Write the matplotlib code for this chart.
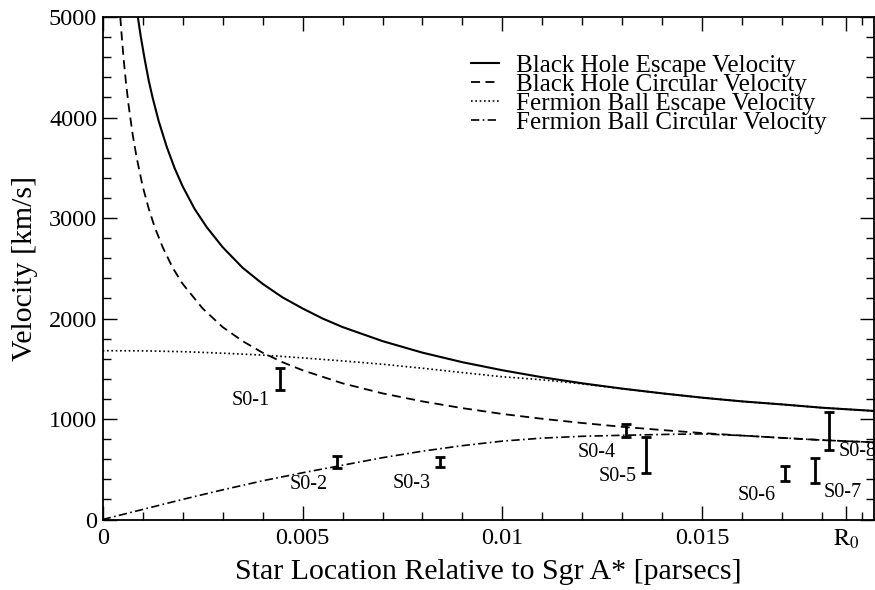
import matplotlib
matplotlib.use("Agg")
import matplotlib.pyplot as plt
from matplotlib.ticker import MultipleLocator, FixedLocator

plt.rcParams['font.family'] = ['Liberation Serif', 'DejaVu Serif']
plt.rcParams['mathtext.fontset'] = 'stix'

# ---------------- data ----------------
bh_esc_x = [0.00088, 0.00095, 0.00105, 0.00115, 0.00125, 0.0014, 0.0016, 0.0018, 0.0020,
            0.0023, 0.0026, 0.0030, 0.0035, 0.0040, 0.0045, 0.0050, 0.0055, 0.0060, 0.0070,
            0.0080, 0.0090, 0.0100, 0.0110, 0.0120, 0.0130, 0.0140, 0.0150, 0.0160, 0.0170,
            0.0180, 0.0193]
bh_esc_v = [5000, 4810, 4580, 4370, 4195, 3965, 3710, 3495, 3315,
            3090, 2910, 2710, 2505, 2345, 2210, 2100, 2000, 1915, 1775,
            1660, 1565, 1485, 1415, 1355, 1302, 1255, 1212, 1175, 1145,
            1112, 1080]

bh_circ_x = [0.00044, 0.00048, 0.00053, 0.00058, 0.00065, 0.00075, 0.00085, 0.0010, 0.00115,
             0.0013, 0.0015, 0.00175, 0.0020, 0.0025, 0.0030, 0.0035, 0.0040, 0.0045, 0.0050,
             0.0060, 0.0070, 0.0080, 0.0090, 0.0100, 0.0110, 0.0120, 0.0130, 0.0140, 0.0150,
             0.0160, 0.0170, 0.0180, 0.0193]
bh_circ_v = [5000, 4790, 4555, 4355, 4115, 3830, 3600, 3315, 3095,
             2910, 2710, 2505, 2345, 2100, 1915, 1775, 1660, 1565, 1485,
             1355, 1255, 1175, 1108, 1050, 1002, 960, 922, 890, 860,
             835, 812, 790, 768]

fb_esc_x = [0.0, 0.001, 0.002, 0.003, 0.004, 0.005, 0.006, 0.007, 0.008, 0.009, 0.010,
            0.011, 0.012, 0.0128, 0.0140, 0.0150, 0.0160, 0.0170, 0.0180, 0.0193]
fb_esc_v = [1680, 1678, 1670, 1655, 1636, 1608, 1578, 1545, 1505, 1462, 1420,
            1390, 1350, 1310, 1255, 1212, 1175, 1145, 1112, 1080]

fb_circ_x = [0.0, 0.001, 0.002, 0.003, 0.004, 0.005, 0.006, 0.007, 0.008, 0.009, 0.010,
             0.011, 0.012, 0.013, 0.014, 0.0150, 0.0160, 0.0170, 0.0180, 0.0193]
fb_circ_v = [0, 100, 200, 295, 385, 465, 540, 615, 680, 735, 780,
             810, 828, 838, 846, 852, 835, 812, 790, 768]

series_labels = ["Black Hole Escape Velocity", "Black Hole Circular Velocity",
                 "Fermion Ball Escape Velocity", "Fermion Ball Circular Velocity"]

star_names = ["S0-1", "S0-2", "S0-3", "S0-4", "S0-5", "S0-6", "S0-7", "S0-8"]
star_x = [0.00443, 0.00587, 0.00845, 0.01308, 0.01360, 0.01708, 0.01783, 0.01817]
star_v = [1400, 570, 575, 890, 642, 455, 490, 880]
star_err = [110, 60, 50, 65, 182, 75, 125, 190]

x_ticks = [0, 0.005, 0.01, 0.015, 0.0186]
x_tick_labels = ["0", "0.005", "0.01", "0.015", r"$\mathrm{R}_0$"]
y_ticks = [0, 1000, 2000, 3000, 4000, 5000]

# ---------------- figure ----------------
fig = plt.figure(figsize=(8.75, 5.9), dpi=100)
ax = fig.add_axes([102.7 / 875, 70.5 / 590, 771.5 / 875, 502.5 / 590])

ax.plot(bh_esc_x, bh_esc_v, color='black', lw=1.5, ls='-', label=series_labels[0])
ax.plot(bh_circ_x, bh_circ_v, color='black', lw=1.3, ls=(0, (5, 3)), label=series_labels[1])
ax.plot(fb_esc_x, fb_esc_v, color='black', lw=1.2, ls=(0, (1, 1.6)), label=series_labels[2])
ax.plot(fb_circ_x, fb_circ_v, color='black', lw=1.2, ls=(0, (5, 2, 1, 2)), label=series_labels[3])

ax.errorbar(star_x, star_v, yerr=star_err, fmt='none', ecolor='black',
            elinewidth=2.0, capsize=3.5, capthick=2.0)

offsets = [(-29, -22)] * 6 + [(27, -22), (29, -20)]
for name, x, v, off in zip(star_names, star_x, star_v, offsets):
    ax.annotate(name, (x, v), xytext=off, textcoords='offset pixels',
                ha='center', va='center', fontsize=14.5, annotation_clip=False)

ax.set_xlim(0, 0.0193)
ax.set_ylim(0, 5000)

ax.xaxis.set_major_locator(FixedLocator(x_ticks))
ax.set_xticklabels(x_tick_labels)
ax.xaxis.set_minor_locator(MultipleLocator(0.001))
ax.yaxis.set_major_locator(FixedLocator(y_ticks))
ax.yaxis.set_minor_locator(MultipleLocator(200))

ax.tick_params(which='both', direction='in', top=True, right=True, labelsize=17.5, width=1.0)
ax.tick_params(which='major', length=10)
ax.tick_params(which='minor', length=5.5)
ax.tick_params(axis='x', pad=6)
ax.tick_params(axis='y', pad=4)
for s in ax.spines.values():
    s.set_linewidth(1.3)

ax.set_xlabel("Star Location Relative to Sgr A* [parsecs]", fontsize=21.5, labelpad=6)
ax.set_ylabel("Velocity [km/s]", fontsize=21.5, labelpad=8)

leg = ax.legend(loc='upper left', bbox_to_anchor=(0.477, 0.925), frameon=False,
                fontsize=18, handlelength=1.12, handletextpad=0.68,
                labelspacing=-0.14, borderpad=0, borderaxespad=0)

fig.savefig("out.png", dpi=100)
